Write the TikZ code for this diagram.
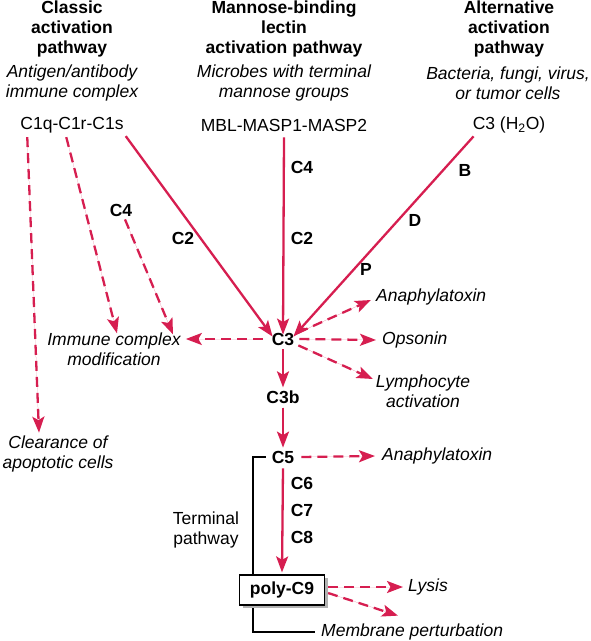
\documentclass[tikz,border=0pt]{standalone}
\usepackage{fontspec}
\setmainfont{Liberation Sans}
\usetikzlibrary{arrows.meta}
\definecolor{pathred}{RGB}{214,30,80}
\tikzset{
  every node/.style={font=\fontsize{17.5}{20}\selectfont, inner sep=1pt},
  ttl/.style={font=\fontsize{17.5}{20}\selectfont\bfseries, align=center},
  sub/.style={font=\fontsize{17.5}{20}\selectfont\itshape, align=center},
  bl/.style={font=\fontsize{17.5}{20}\selectfont\bfseries},
  it/.style={font=\fontsize{17.5}{20}\selectfont\itshape, align=center},
  tip/.style={-{Stealth[length=16pt,width=12pt,inset=3.5pt]}},
  sarr/.style={tip, draw=pathred, fill=pathred, line width=2.3pt},
  darr/.style={tip, draw=pathred, fill=pathred, line width=2.3pt, dash pattern=on 10pt off 6pt},
  brk/.style={draw=black, line width=1.2pt},
}
\begin{document}
\begin{tikzpicture}[x=1pt,y=-1pt]
\path[use as bounding box] (0,0) rectangle (591,641);
% titles
\node[ttl] (t1) at (72,29) {Classic\\activation\\pathway};
\node[ttl] (t2) at (284,29) {Mannose-binding\\lectin\\activation pathway};
\node[ttl] (t3) at (509,29) {Alternative\\activation\\pathway};
\node[sub] (s1) at (72,83) {Antigen/antibody\\immune complex};
\node[sub] (s2) at (284,83) {Microbes with terminal\\mannose groups};
\node[sub] (s3) at (508,83) {Bacteria, fungi, virus,\\or tumor cells};
% initiators
\node (c1s) at (72,125) {C1q-C1r-C1s};
\node (mbl) at (284,125) {MBL-MASP1-MASP2};
\node (c3h) at (509,125) {C3 (H\textsubscript{2}O)};
% central column
\node[bl] (c3) at (283,339) {C3};
\node[bl] (c3b) at (283,397) {C3b};
\node[bl] (c5) at (283,457) {C5};
% arrow labels
\node[bl] (lc2a) at (183,238) {C2};
\node[bl] (lc4a) at (121,210) {C4};
\node[bl] (lc4b) at (302,167) {C4};
\node[bl] (lc2b) at (302,238) {C2};
\node[bl] (lb) at (465,170) {B};
\node[bl] (ld) at (415,220) {D};
\node[bl] (lp) at (366,269) {P};
\node[bl] (lc6) at (302,483) {C6};
\node[bl] (lc7) at (302,510) {C7};
\node[bl] (lc8) at (302,537) {C8};
% outcomes
\node[it] (imm) at (114,349) {Immune complex\\modification};
\node[it] (clear) at (58,454) {Clearance of\\apoptotic cells};
\node[it, anchor=west] (ana1) at (375,297) {Anaphylatoxin};
\node[it, anchor=west] (ops) at (381,340) {Opsonin};
\node[it] (lym) at (423,391) {Lymphocyte\\activation};
\node[it, anchor=west] (ana2) at (381,456) {Anaphylatoxin};
\node[align=center] (term) at (206,530) {Terminal\\pathway};
\node[it, anchor=west] (lys) at (407,587) {Lysis};
\node[it, anchor=west] (memb) at (320,632) {Membrane perturbation};
% terminal bracket
\draw[brk] ([xshift=-5pt]c5.west) -- (253,457) |- ([xshift=-5pt]memb.west);
% poly-C9 box
\fill[black!30] (243,578) rectangle (328,608);
\node[draw=black, line width=1.2pt, fill=white, bl, minimum width=85pt, minimum height=30pt] (pc9) at (282,590) {poly-C9};
% solid arrows
\draw[sarr] ([xshift=1pt,yshift=-2pt]c1s.south east) -- ([xshift=2pt,yshift=-5pt]c3.north west);
\draw[sarr] ([yshift=-5pt]mbl.south) -- ([yshift=-3pt]c3.north);
\draw[sarr] ([xshift=2pt,yshift=-2pt]c3h.south west) -- ([xshift=-2pt,yshift=-5pt]c3.north east);
\draw[sarr] ([yshift=-3pt]c3.south) -- ([yshift=2pt]c3b.north);
\draw[sarr] ([yshift=-3pt]c3b.south) -- ([yshift=2pt]c5.north);
\draw[sarr] ([yshift=-4pt]c5.south) -- ([yshift=2pt]pc9.north);
% dashed arrows
\draw[darr] ([xshift=8pt,yshift=-3pt]c1s.south west) -- ([xshift=-19pt,yshift=2pt]clear.north);
\draw[darr] ([xshift=47pt,yshift=-3pt]c1s.south west) -- ([xshift=3pt,yshift=-2pt]imm.north);
\draw[darr] ([xshift=4pt,yshift=-2pt]lc4a.south) -- ([xshift=59pt,yshift=-3pt]imm.north);
\draw[darr] ([xshift=-8pt]c3.west) -- ([xshift=4pt,yshift=10pt]imm.east);
\draw[darr] ([xshift=3pt,yshift=-1pt]c3.north east) -- ([xshift=-4pt,yshift=-3pt]ana1.west);
\draw[darr] ([xshift=4pt]c3.east) -- ([xshift=-5pt]ops.west);
\draw[darr] ([xshift=3pt,yshift=1pt]c3.south east) -- ([xshift=-2pt,yshift=12pt]lym.west);
\draw[darr] ([xshift=6pt]c5.east) -- ([xshift=-6pt]ana2.west);
\draw[darr] ([xshift=3pt,yshift=3pt]pc9.east) -- ([xshift=-4pt,yshift=0pt]lys.west);
\draw[darr] ([xshift=3pt,yshift=-3pt]pc9.east) -- ([xshift=78pt,yshift=7pt]memb.north west);
\end{tikzpicture}
\end{document}
